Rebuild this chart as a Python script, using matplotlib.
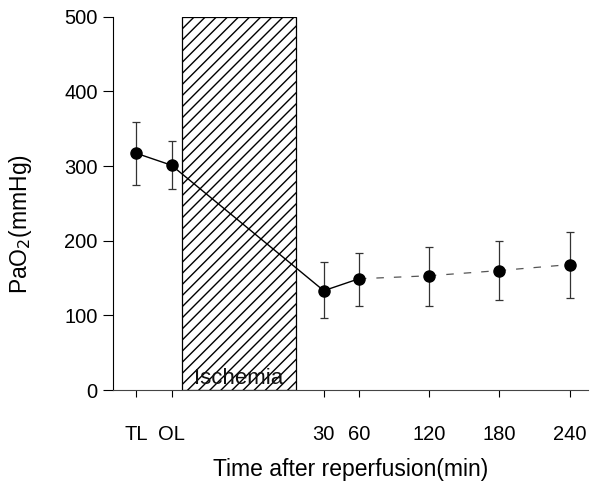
import matplotlib.pyplot as plt
from matplotlib.patches import Rectangle

plt.rcParams["font.family"] = ["Liberation Sans", "DejaVu Sans"]
plt.rcParams["hatch.linewidth"] = 1.0

# time points (min); TL / OL are baseline points placed before ischemia
labels = ["TL", "OL", "30", "60", "120", "180", "240"]
times = [-130, -100, 30, 60, 120, 180, 240]
pao2 = [317, 301, 133, 149, 153, 160, 168]
err_up = [42, 33, 38, 35, 39, 40, 44]
err_dn = [42, 32, 37, 36, 40, 40, 45]
ischemia = (-91, 6)

fig = plt.figure(figsize=(5.9, 4.83), dpi=100)
ax = fig.add_axes([0.1915, 0.1925, 0.805, 0.773])

# ischemia block
ax.add_patch(Rectangle((ischemia[0], 0), ischemia[1] - ischemia[0], 500,
                       facecolor="white", edgecolor="black", hatch="///",
                       linewidth=0.9, zorder=1))
ax.text((ischemia[0] + ischemia[1]) / 2, 1, "Ischemia", ha="center", va="bottom",
        fontsize=16, color="#111111", zorder=2)

# solid segment up to 60 min, faint dashed afterwards
ax.plot(times[:4], pao2[:4], color="black", lw=1.0, zorder=3)
ax.plot(times[3:], pao2[3:], color="#555555", lw=0.9, ls=(0, (6, 8)), zorder=3)
ax.errorbar(times, pao2, yerr=[err_dn, err_up], fmt="o", color="black",
            markersize=8, ecolor="#333333", elinewidth=0.9, capsize=3,
            capthick=0.9, zorder=4)

ax.set_xlim(-150, 255.6)
ax.set_ylim(0, 500)
ax.set_xticks(times)
ax.set_xticklabels(labels)
ax.set_yticks([0, 100, 200, 300, 400, 500])
ax.tick_params(axis="both", labelsize=14.5, direction="out", width=0.8)
ax.tick_params(axis="y", length=7, pad=4)
ax.tick_params(axis="x", length=5, pad=20)

for side in ["top", "right"]:
    ax.spines[side].set_visible(False)
ax.spines["left"].set_linewidth(0.8)
ax.spines["bottom"].set_linewidth(0.8)
ax.spines["bottom"].set_color("#444444")

ax.set_xlabel("Time after reperfusion(min)", fontsize=16.5, labelpad=10)
ax.set_ylabel("PaO$_2$(mmHg)", fontsize=16.5)
ax.yaxis.set_label_coords(-0.166, 0.445)

fig.savefig("out.png", dpi=100)
